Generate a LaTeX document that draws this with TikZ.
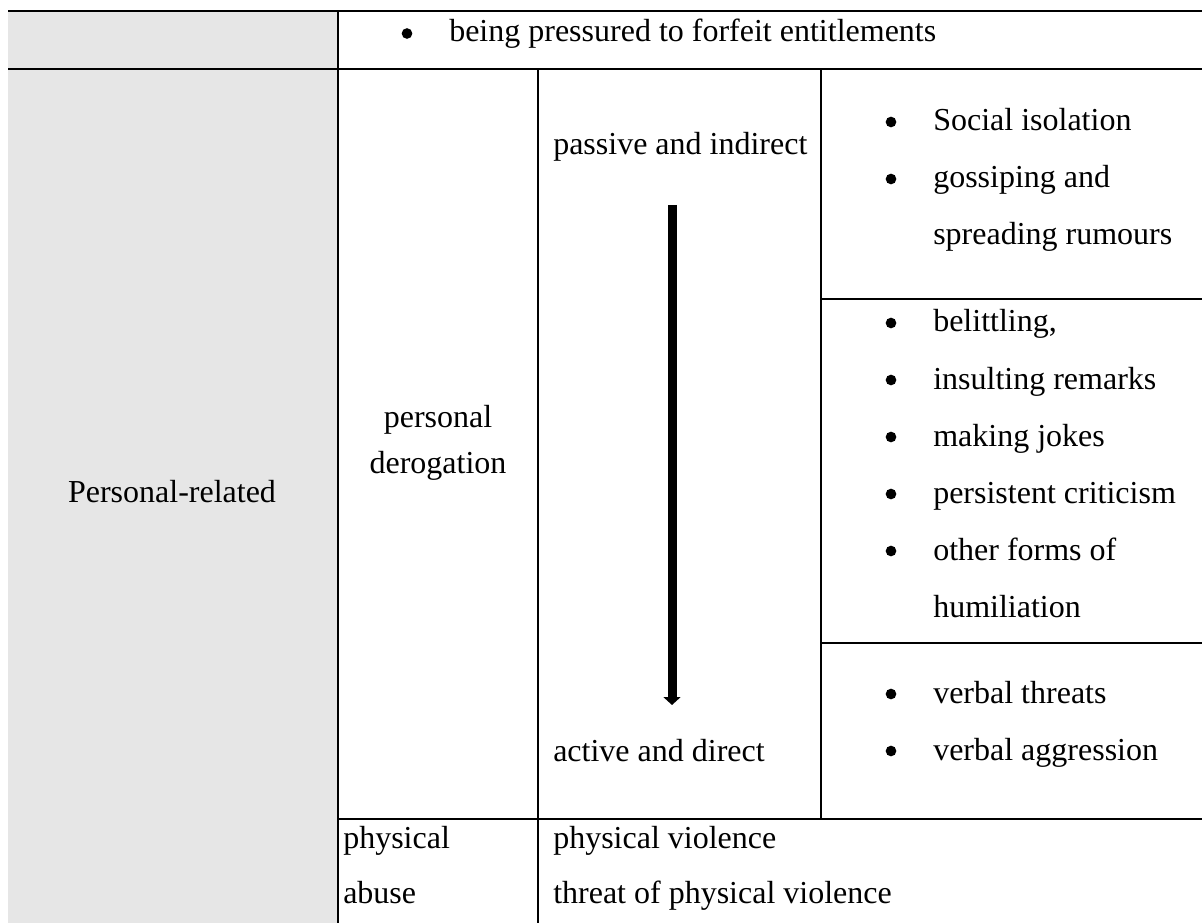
\documentclass[tikz,border=0pt]{standalone}
\usepackage{fontspec}
\setmainfont{Liberation Serif}
\usetikzlibrary{arrows.meta}
\definecolor{cellgrey}{RGB}{230,230,230}
\begin{document}
\begin{tikzpicture}[x=0.75pt,y=-0.75pt,
  rule/.style={line width=2pt, draw=black},
  txt/.style={font=\fontsize{24}{28}\selectfont, inner sep=0pt, anchor=base west},
  ctxt/.style={font=\fontsize{24}{28}\selectfont, inner sep=0pt, anchor=base},
  bul/.style={circle, fill=black, inner sep=0pt, minimum size=8pt},
  bigarrow/.style={line width=6.75pt, -{Triangle[length=6pt,width=12.75pt]}}]
\useasboundingbox (0,0) rectangle (1202,923);
% grey first column
\fill[cellgrey] (8,11) rectangle (338,923);
% table rules
\draw[rule] (8,11) -- (1202,11);
\draw[rule] (8,69) -- (1202,69);
\draw[rule] (338,11) -- (338,923);
\draw[rule] (538,69) -- (538,923);
\draw[rule] (821,69) -- (821,819);
\draw[rule] (821,299) -- (1202,299);
\draw[rule] (821,643) -- (1202,643);
\draw[rule] (338,819) -- (1202,819);
% top row
\node[bul] (b0) at (407,33.5) {};
\node[txt] (t0) at (449,42) {being pressured to forfeit entitlements};
% first column
\node[ctxt] (pr) at (172,502) {Personal-related};
% second column
\node[ctxt] (pd1) at (438,427) {personal};
\node[ctxt] (pd2) at (438,473) {derogation};
\node[txt] (pa1) at (343,848) {physical};
\node[txt] (pa2) at (343,903) {abuse};
% third column
\node[txt] (pass) at (553,155) {passive and indirect};
\node[txt] (act) at (553,761) {active and direct};
\coordinate (ar1) at (672,205);
\coordinate (ar2) at (672,705);
\draw[bigarrow] (ar1) -- (ar2);
\node[txt] (pv1) at (553,848) {physical violence};
\node[txt] (pv2) at (553,903) {threat of physical violence};
% fourth column, group 1
\node[bul] (b1) at (891,122) {};
\node[txt] (s1) at (933,131) {Social isolation};
\node[bul] (b2) at (891,179) {};
\node[txt] (s2) at (933,188) {gossiping and};
\node[txt] (s3) at (933,245) {spreading rumours};
% group 2
\node[bul] (b3) at (891,323) {};
\node[txt] (m1) at (933,332) {belittling,};
\node[bul] (b4) at (891,380) {};
\node[txt] (m2) at (933,389) {insulting remarks};
\node[bul] (b5) at (891,437) {};
\node[txt] (m3) at (933,446) {making jokes};
\node[bul] (b6) at (891,494) {};
\node[txt] (m4) at (933,503) {persistent criticism};
\node[bul] (b7) at (891,551) {};
\node[txt] (m5) at (933,560) {other forms of};
\node[txt] (m6) at (933,617) {humiliation};
% group 3
\node[bul] (b8) at (891,694) {};
\node[txt] (v1) at (933,703) {verbal threats};
\node[bul] (b9) at (891,751) {};
\node[txt] (v2) at (933,760) {verbal aggression};
\end{tikzpicture}
\end{document}
